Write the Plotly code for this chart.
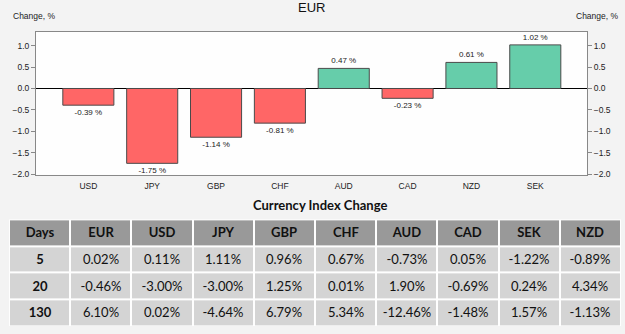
import plotly.graph_objects as go

currencies = ["USD", "JPY", "GBP", "CHF", "AUD", "CAD", "NZD", "SEK"]
changes = [-0.39, -1.75, -1.14, -0.81, 0.47, -0.23, 0.61, 1.02]

table_header = ["Days", "EUR", "USD", "JPY", "GBP", "CHF", "AUD", "CAD", "SEK", "NZD"]
days = ["5", "20", "130"]
eur = ["0.02%", "-0.46%", "6.10%"]
usd = ["0.11%", "-3.00%", "0.02%"]
jpy = ["1.11%", "-3.00%", "-4.64%"]
gbp = ["0.96%", "1.25%", "6.79%"]
chf = ["0.67%", "0.01%", "5.34%"]
aud = ["-0.73%", "1.90%", "-12.46%"]
cad = ["0.05%", "-0.69%", "-1.48%"]
sek = ["-1.22%", "0.24%", "1.57%"]
nzd = ["-0.89%", "4.34%", "-1.13%"]

W, H = 625, 334
L, R, T, B = 36, 587, 32, 177
FONT = "Liberation Sans, Arial"
TFONT = "Lato, Open Sans"

colors = ["#66cdaa" if v >= 0 else "#ff6666" for v in changes]
labels = [f"{v:.2f} %" for v in changes]

fig = go.Figure()
fig.add_trace(go.Bar(
    x=currencies, y=changes, marker=dict(color=colors, line=dict(color="#4a4a4a", width=1)),
    width=0.8, text=labels, textposition="outside", cliponaxis=False,
    textfont=dict(size=8, color="#222", family=FONT),
    xaxis="x", yaxis="y", showlegend=False, hoverinfo="skip"))
fig.add_trace(go.Scatter(x=currencies, y=changes, mode="markers", marker=dict(opacity=0),
                         xaxis="x", yaxis="y2", showlegend=False, hoverinfo="skip"))

# table drawn as a heatmap grid
columns = [days, eur, usd, jpy, gbp, chf, aud, cad, sek, nzd]
nrow = len(days) + 1
ncol = len(table_header)
text = [[f"<b>{h}</b>" for h in table_header]]
z = [[1] * ncol]
for r in range(len(days)):
    row = []
    for c in range(ncol):
        v = columns[c][r]
        row.append(f"<b>{v}</b>" if c == 0 else v)
    text.append(row)
    z.append([0] * ncol)

fig.add_trace(go.Heatmap(
    z=z, x=list(range(ncol)), y=list(range(nrow)), text=text, texttemplate="%{text}",
    textfont=dict(family=TFONT, size=13, color="#111"),
    colorscale=[[0, "#d4d4d4"], [1, "#999999"]], zmin=0, zmax=1, showscale=False,
    xgap=2, ygap=2, xaxis="x2", yaxis="y3", hoverinfo="skip"))

fig.update_layout(
    width=W, height=H,
    margin=dict(l=0, r=0, t=0, b=0),
    paper_bgcolor="#f3f3f3", plot_bgcolor="#fefefe",
    xaxis=dict(domain=[L / W, R / W], range=[-0.82, 7.81], showgrid=False, zeroline=False,
               showline=True, linecolor="#888", mirror=True, ticks="outside", ticklen=3,
               tickcolor="rgba(0,0,0,0)",
               tickfont=dict(size=8.5, color="#222", family=FONT), anchor="y"),
    yaxis=dict(domain=[1 - B / H, 1 - T / H], range=[-2.02, 1.33], dtick=0.5, tick0=0,
               tickformat=".1f", showgrid=False, zeroline=True, zerolinecolor="#000",
               zerolinewidth=1, showline=True, linecolor="#888", ticks="outside",
               ticklen=4, tickcolor="#888",
               tickfont=dict(size=8.5, color="#222", family=FONT)),
    yaxis2=dict(overlaying="y", side="right", range=[-2.02, 1.33], dtick=0.5, tick0=0,
                tickformat=".1f", showgrid=False, zeroline=False, showline=True,
                linecolor="#888", ticks="outside", ticklen=4, tickcolor="#888",
                tickfont=dict(size=8.5, color="#222", family=FONT)),
    xaxis2=dict(domain=[9 / W, 621 / W], range=[-0.5, ncol - 0.5], visible=False,
                anchor="y3"),
    yaxis3=dict(domain=[1 - 330 / H, 1 - 222 / H], range=[nrow - 0.5, -0.5], visible=False,
                anchor="x2"),
    annotations=[
        dict(text="EUR", x=311 / W, y=1 - 8 / H, xref="paper", yref="paper", yanchor="middle",
             showarrow=False, font=dict(size=13, color="#111", family=FONT)),
        dict(text="Change, %", x=11 / W, y=1 - 16 / H, xref="paper", yref="paper",
             xanchor="left", yanchor="middle", showarrow=False,
             font=dict(size=8.5, color="#222", family=FONT)),
        dict(text="Change, %", x=620 / W, y=1 - 16 / H, xref="paper", yref="paper",
             xanchor="right", yanchor="middle", showarrow=False,
             font=dict(size=8.5, color="#222", family=FONT)),
        dict(text="<b>Currency Index Change</b>", x=320 / W, y=1 - 207 / H, xref="paper",
             yref="paper", yanchor="middle", showarrow=False,
             font=dict(size=13, color="#111", family=TFONT)),
    ],
)

fig.write_html("out.html")
